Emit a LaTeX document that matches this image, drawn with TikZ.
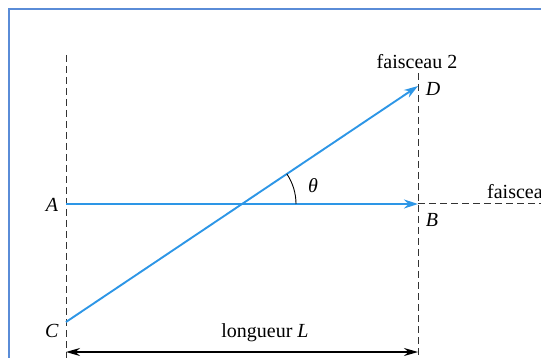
\documentclass[tikz,border=0pt]{standalone}
\usepackage{fontspec}
\setmainfont{Liberation Serif}
\usetikzlibrary{arrows.meta}
\definecolor{beam}{RGB}{45,150,230}
\definecolor{frameblue}{RGB}{90,140,215}
\begin{document}
\begin{tikzpicture}[x=1pt,y=-1pt,font=\fontsize{20}{23}\selectfont,
  guide/.style={black!80,line width=1pt,dash pattern=on 7pt off 4pt},
  ray/.style={beam,line width=1.9pt,-{Stealth[length=14pt,width=9pt]}},
  span/.style={line width=1.5pt,{Stealth[length=14pt,width=8pt]}-{Stealth[length=14pt,width=8pt]}}]
\useasboundingbox (0,0) rectangle (541,358);
\draw[frameblue,line width=2.2pt] (9,358) -- (9,9) -- (541,9);

% points of the two beams
\coordinate (A) at (66,204);
\coordinate (B) at (418,204);
\coordinate (C) at (66,322);
\coordinate (D) at (418,86);
\coordinate (topleft) at (66,55);
\coordinate (topright) at (418,73);
\coordinate (botleft) at (66,358);
\coordinate (botright) at (418,358);
\coordinate (far) at (541,204);
\coordinate (Lleft) at (66,352);
\coordinate (Lright) at (418,352);

\draw[guide] (topleft) -- (botleft);
\draw[guide] (topright) -- (botright);
\draw[guide] (B) -- (far);

\draw[ray] (A) -- (B);
\draw[ray] (C) -- (D);

\coordinate (I) at (intersection of A--B and C--D);
\draw[line width=0.9pt] (I) ++(54,0) arc[start angle=0,end angle=-33.9,radius=54];

\draw[span] (Lleft) -- (Lright);

\node (labA) at (52,205) {\textit{A}};
\node (labB) at (432,220) {\textit{B}};
\node (labC) at (52,331) {\textit{C}};
\node (labD) at (433,89) {\textit{D}};
\node (labtheta) at (313,186) {\textit{θ}};
\node (beam2) at (417,62) {faisceau 2};
\node[anchor=west,inner sep=0pt] (beam1) at (487,192) {faisceau};
\node (length) at (265,333) {longueur \textit{L}};
\end{tikzpicture}
\end{document}
